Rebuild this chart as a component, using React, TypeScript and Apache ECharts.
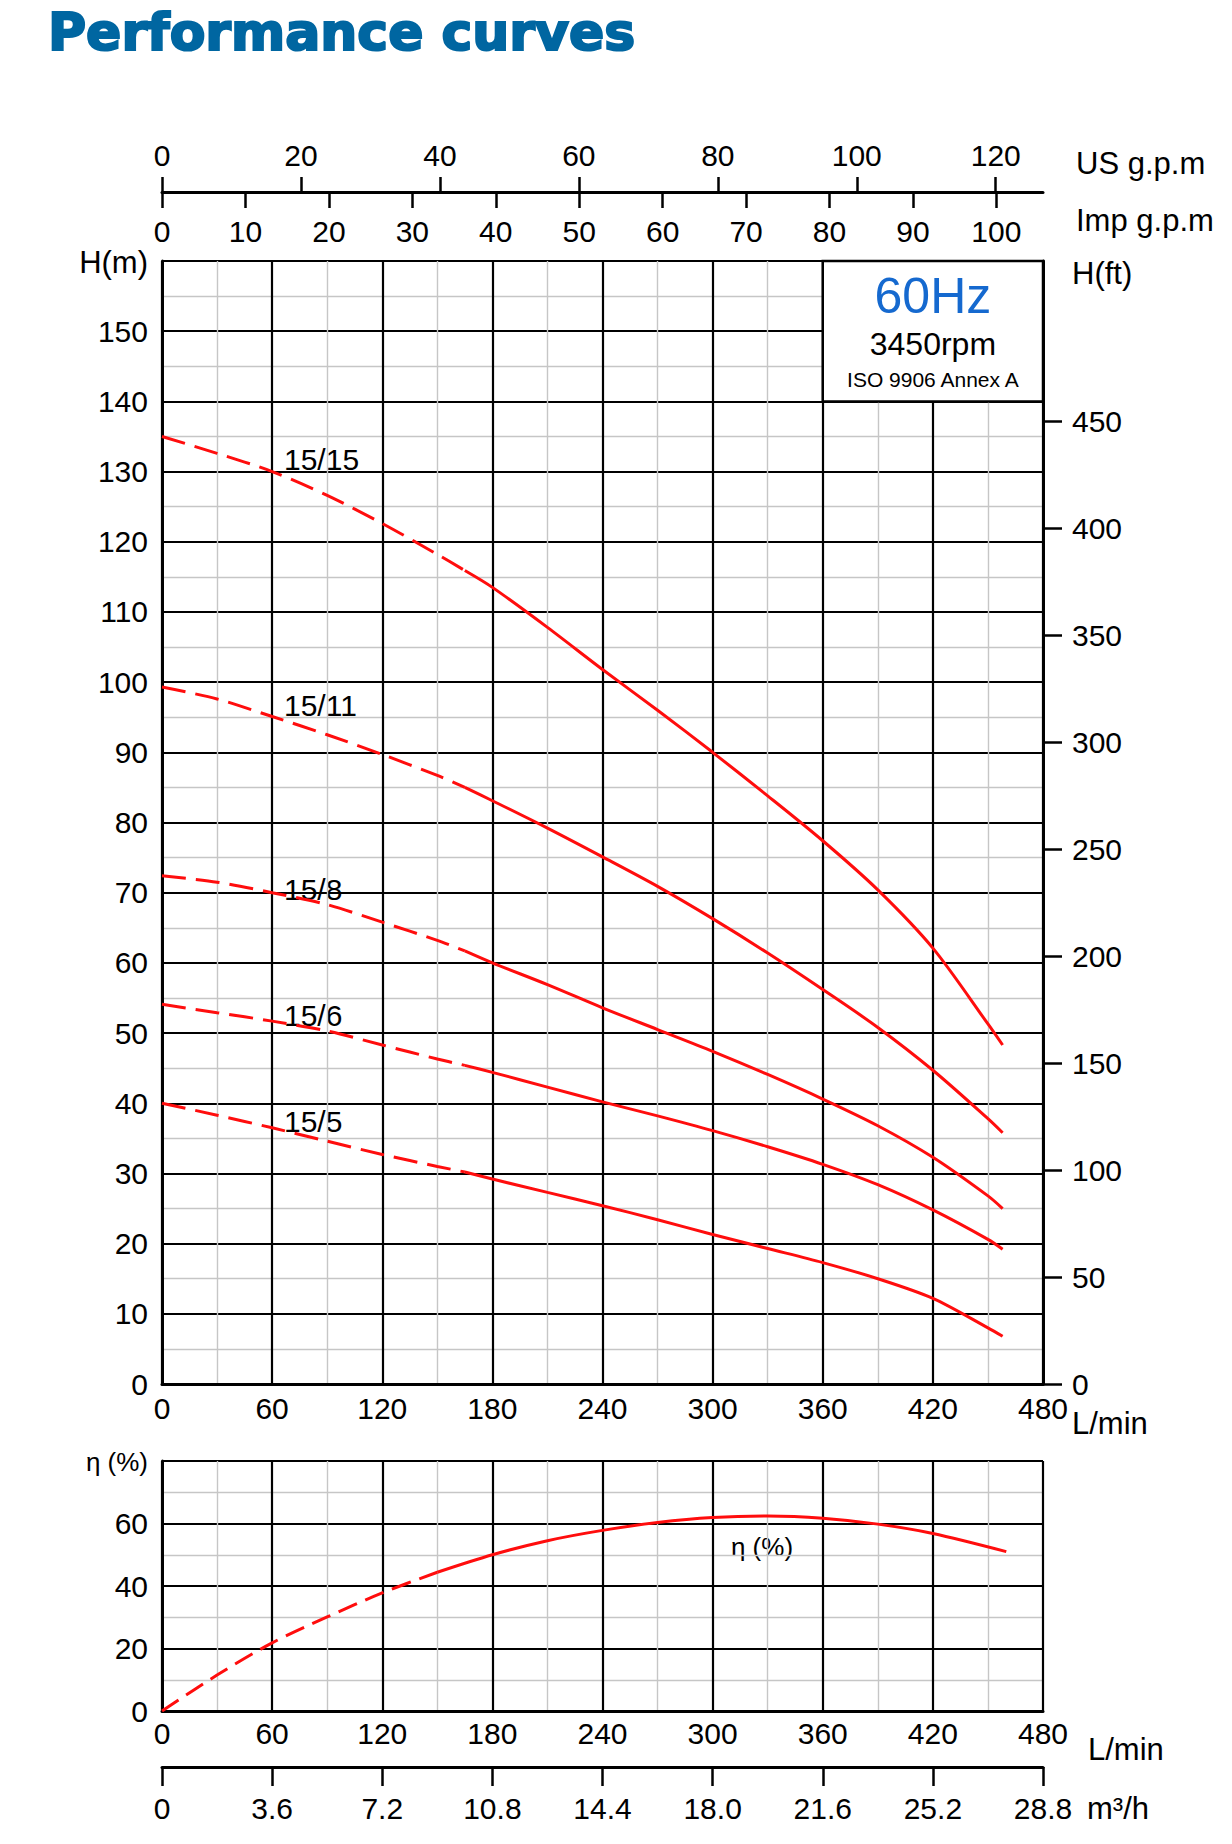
import { useEffect, useRef } from 'react'
import * as echarts from 'echarts'

// Pump performance chart, 60 Hz / 3450 rpm. Head curves per model plus the
// common efficiency curve.

const FLOW = [0, 30, 60, 90, 120, 150, 165, 180, 210, 240, 270, 300, 330, 360, 390, 420, 450, 458]
const HEAD_15_15 = [135, 132.6, 130.0, 126.6, 122.6, 118.2, 115.9, 113.5, 107.8, 101.8, 96.0, 90.0, 83.8, 77.4, 70.4, 62.1, 51.3, 48.3]
const HEAD_15_11 = [99.3, 97.6, 95.1, 92.5, 89.7, 86.7, 85.0, 83.1, 79.2, 75.1, 70.9, 66.3, 61.4, 56.2, 50.8, 44.7, 37.8, 35.8]
const HEAD_15_8 = [72.4, 71.5, 70.0, 68.3, 65.8, 63.2, 61.7, 60.0, 56.9, 53.6, 50.5, 47.4, 44.1, 40.6, 36.8, 32.3, 26.8, 25.0]
const HEAD_15_6 = [54.1, 52.9, 51.7, 50.3, 48.3, 46.3, 45.4, 44.4, 42.3, 40.2, 38.2, 36.1, 33.8, 31.3, 28.4, 24.8, 20.6, 19.2]
const HEAD_15_5 = [40.0, 38.3, 36.5, 34.6, 32.7, 31.0, 30.2, 29.2, 27.3, 25.4, 23.4, 21.3, 19.3, 17.3, 15.0, 12.2, 8.0, 6.8]
const MODELS = ['15/15', '15/11', '15/8', '15/6', '15/5']
const HEADS = [HEAD_15_15, HEAD_15_11, HEAD_15_8, HEAD_15_6, HEAD_15_5]
const HEAD_DASH_END = 6 // dashed up to FLOW[6]

const EFF_FLOW = [0, 30, 60, 90, 120, 150, 180, 210, 240, 270, 300, 330, 360, 390, 420, 460]
const EFF = [0, 11.5, 21.8, 30.1, 37.8, 44.4, 50.0, 54.5, 57.8, 60.3, 61.9, 62.4, 61.7, 59.8, 56.8, 51.0]
const EFF_DASH_END = 5

const US_TICKS = [0, 20, 40, 60, 80, 100, 120]
const IMP_TICKS = [0, 10, 20, 30, 40, 50, 60, 70, 80, 90, 100]
const FT_TICKS = [0, 50, 100, 150, 200, 250, 300, 350, 400, 450]
const M3H_TICKS = [0, 3.6, 7.2, 10.8, 14.4, 18.0, 21.6, 25.2, 28.8]

const L_PER_US_GAL = 3.78541
const L_PER_IMP_GAL = 4.54609
const M_PER_FT = 0.3048

const RED = '#ff0d0d'
const FONT = "'Liberation Sans', Arial, Helvetica, sans-serif"
const NARROW = "'Liberation Sans Narrow', 'Liberation Sans', Arial, sans-serif"

const major = { show: true, lineStyle: { color: '#000', width: 2.2 } }
const minor = { show: true, lineStyle: { color: '#c6c6c6', width: 1.4 } }
const frame = { show: true, onZero: false, lineStyle: { color: '#000', width: 3 } }
const label = { color: '#000', fontSize: 30, fontFamily: FONT }
const tickLine = { color: '#000', width: 2.5 }

function txt(x: number, y: number, text: string, size = 31, align = 'left', family = FONT) {
  return {
    type: 'text',
    x,
    y,
    silent: true,
    style: { text, fill: '#000', fontSize: size, fontFamily: family, align, verticalAlign: 'middle' },
  }
}

function curve(xs: number[], ys: number[], from: number, to: number, dashed: number[] | null, xi: number, yi: number) {
  return {
    type: 'line',
    xAxisIndex: xi,
    yAxisIndex: yi,
    data: xs.slice(from, to + 1).map((x, i) => [x, ys[from + i]]),
    smooth: 0.3,
    symbol: 'none',
    silent: true,
    z: 3,
    lineStyle: { color: RED, width: 3, type: dashed ?? 'solid', cap: 'butt' },
  }
}

function buildOption(): echarts.EChartsOption {
  const series: any[] = []
  HEADS.forEach((h, i) => {
    series.push(curve(FLOW, h, 0, HEAD_DASH_END, [24, 10], 0, 0))
    series.push(curve(FLOW, h, HEAD_DASH_END, FLOW.length - 1, null, 0, 0))
    series[series.length - 1].name = MODELS[i]
  })
  // boxed caption in the upper-right cell block
  series[0].markArea = {
    silent: true,
    itemStyle: { color: '#fff', borderColor: '#000', borderWidth: 2.5 },
    label: {
      show: true,
      position: 'inside',
      formatter: '{a|60Hz}\n{b|3450rpm}\n{c|ISO 9906 Annex A}',
      rich: {
        a: { fontSize: 50, color: '#1569cf', lineHeight: 50, fontFamily: FONT },
        b: { fontSize: 32, color: '#000', lineHeight: 46, fontFamily: FONT },
        c: { fontSize: 21, color: '#000', lineHeight: 24, fontFamily: FONT },
      },
    },
    data: [[{ xAxis: 360, yAxis: 160 }, { xAxis: 480, yAxis: 140 }]],
  }
  series.push(curve(EFF_FLOW, EFF, 0, EFF_DASH_END, [20, 9], 3, 2))
  series.push(curve(EFF_FLOW, EFF, EFF_DASH_END, EFF_FLOW.length - 1, null, 3, 2))

  return {
    animation: false,
    textStyle: { fontFamily: FONT },
    grid: [
      { left: 162, top: 261, width: 881, height: 1123, show: false },
      { left: 162, top: 1461, width: 881, height: 250, show: false },
    ],
    xAxis: [
      {
        gridIndex: 0, type: 'value', position: 'bottom', min: 0, max: 480, interval: 60,
        axisLine: frame, axisTick: { show: false }, axisLabel: { ...label, margin: 9 },
        splitLine: major, minorTick: { show: false, splitNumber: 2 }, minorSplitLine: minor,
      },
      {
        gridIndex: 0, type: 'value', position: 'top', offset: 69, min: 0, max: 480 / L_PER_IMP_GAL,
        axisLine: frame,
        axisTick: { show: true, inside: true, length: 16, customValues: IMP_TICKS, lineStyle: tickLine },
        axisLabel: { ...label, inside: true, margin: 24, customValues: IMP_TICKS },
        splitLine: { show: false },
      },
      {
        gridIndex: 0, type: 'value', position: 'top', offset: 69, min: 0, max: 480 / L_PER_US_GAL,
        axisLine: { show: false, onZero: false },
        axisTick: { show: true, length: 15, customValues: US_TICKS, lineStyle: tickLine },
        axisLabel: { ...label, margin: 22, customValues: US_TICKS },
        splitLine: { show: false },
      },
      {
        gridIndex: 1, type: 'value', position: 'bottom', min: 0, max: 480, interval: 60,
        axisLine: frame, axisTick: { show: false }, axisLabel: { ...label, margin: 7 },
        splitLine: major, minorTick: { show: false, splitNumber: 2 }, minorSplitLine: minor,
      },
      {
        gridIndex: 1, type: 'value', position: 'bottom', offset: 56, min: 0, max: 28.8,
        axisLine: frame,
        axisTick: { show: true, length: 19, customValues: M3H_TICKS, lineStyle: tickLine },
        axisLabel: {
          ...label, margin: 26, customValues: M3H_TICKS,
          formatter: (v: number) => (v === 0 ? '0' : v.toFixed(1)),
        },
        splitLine: { show: false },
      },
    ],
    yAxis: [
      {
        gridIndex: 0, type: 'value', position: 'left', min: 0, max: 160, interval: 10,
        axisLine: frame, axisTick: { show: false },
        axisLabel: { ...label, margin: 14, showMaxLabel: false },
        splitLine: major, minorTick: { show: false, splitNumber: 2 }, minorSplitLine: minor,
      },
      {
        gridIndex: 0, type: 'value', position: 'right', min: 0, max: 160 / M_PER_FT,
        axisLine: frame,
        axisTick: { show: true, length: 19, customValues: FT_TICKS, lineStyle: tickLine },
        axisLabel: { ...label, margin: 29, customValues: FT_TICKS },
        splitLine: { show: false },
      },
      {
        gridIndex: 1, type: 'value', position: 'left', min: 0, max: 80, interval: 20,
        axisLine: frame, axisTick: { show: false },
        axisLabel: { ...label, margin: 14, showMaxLabel: false },
        splitLine: major, minorTick: { show: false, splitNumber: 2 }, minorSplitLine: minor,
      },
    ],
    graphic: [
      {
        type: 'text', x: 48, y: 32, silent: true,
        style: {
          text: 'Performance curves', fill: '#0066a1', stroke: '#0066a1', lineWidth: 2.2,
          fontSize: 52, fontWeight: 'bold',
          fontFamily: "'DejaVu Sans', 'Liberation Sans', sans-serif", verticalAlign: 'middle',
        },
      },
      txt(1076, 163, 'US g.p.m'),
      txt(1076, 220, 'Imp g.p.m'),
      txt(148, 262, 'H(m)', 31, 'right'),
      txt(1072, 273, 'H(ft)'),
      txt(1072, 1423, 'L/min'),
      txt(1088, 1749, 'L/min'),
      txt(1087, 1808, 'm³/h'),
      txt(148, 1462, 'η (%)', 26, 'right', NARROW),
      txt(762, 1547, 'η (%)', 26, 'center', NARROW),
      txt(284, 459, MODELS[0], 30),
      txt(284, 705, MODELS[1], 30),
      txt(284, 889, MODELS[2], 30),
      txt(284, 1015, MODELS[3], 30),
      txt(284, 1121, MODELS[4], 30),
    ],
    series,
  }
}

export default function App() {
  const ref = useRef<HTMLDivElement>(null)

  useEffect(() => {
    const el = ref.current
    if (!el) return
    const chart = echarts.init(el, undefined, { renderer: 'svg' })
    chart.setOption(buildOption())
    return () => chart.dispose()
  }, [])

  return (
    <div
      ref={ref}
      style={{ position: 'absolute', left: 0, top: 0, width: 1232, height: 1844, background: '#fff' }}
    />
  )
}
